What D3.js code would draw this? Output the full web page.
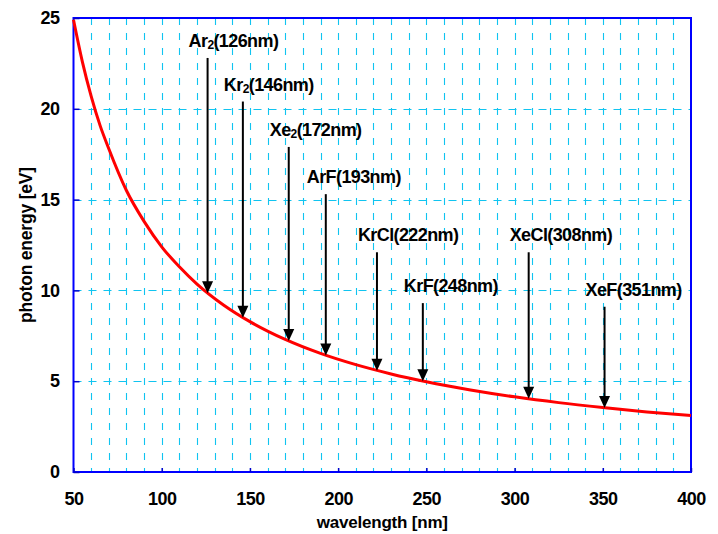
<!DOCTYPE html>
<html><head><meta charset="utf-8">
<script src="https://cdn.jsdelivr.net/npm/d3@7"></script>
<style>body{margin:0;background:#fff}text{font-family:"Liberation Sans",Arial,sans-serif;font-weight:bold;fill:#000}</style>
</head><body><svg id="c" width="718" height="534"></svg>
<script>
// curve readings: wavelength [nm] -> photon energy [eV]
const curveWavelength = [50,55,60,65,70,80,90,100,110,120,135,150,170,190,210,230,250,275,300,325,350,375,400];
const curveEnergy     = [24.9,22.6,20.7,19.1,17.8,15.5,13.8,12.4,11.3,10.35,9.2,8.28,7.3,6.53,5.91,5.4,4.97,4.52,4.14,3.82,3.55,3.31,3.11];
// excimer lines
const lineName       = ["Ar","Kr","Xe","ArF","KrCl","KrF","XeCl","XeF"];
const lineSub        = ["2","2","2","","","","",""];
const lineWavelength = [126,146,172,193,222,248,308,351];
const lineEnergy     = [9.84,8.49,7.21,6.42,5.58,5.00,4.03,3.53];
const labelEnergy    = [22.8,20.4,17.9,15.3,12.1,9.3,12.1,9.1]; // arrow start level
const xTicks = [50,100,150,200,250,300,350,400];
const yTicks = [0,5,10,15,20,25];
const xMinor = d3.range(60,400,10);
const yGrid = [5,10,15,20];

const svg = d3.select("#c");
const L=73.5, R=691, T=18, B=472;
const x = d3.scaleLinear().domain([50,400]).range([L,R]);
const y = d3.scaleLinear().domain([0,25]).range([B,T]);
const grid = "#10c4f0";

// grid
svg.append("g").selectAll("line").data(xMinor).join("line")
  .attr("x1",d=>Math.round(x(d))+0.5).attr("x2",d=>Math.round(x(d))+0.5)
  .attr("y1",T).attr("y2",B).attr("stroke",grid).attr("stroke-width",1.1).attr("stroke-dasharray","7,8");
svg.append("g").selectAll("line").data(yGrid).join("line")
  .attr("y1",d=>Math.round(y(d))+0.5).attr("y2",d=>Math.round(y(d))+0.5)
  .attr("x1",L).attr("x2",R).attr("stroke",grid).attr("stroke-width",1.1).attr("stroke-dasharray","8,7");

// frame
svg.append("rect").attr("x",L).attr("y",T).attr("width",R-L).attr("height",B-T)
  .attr("fill","none").attr("stroke","#0000ff").attr("stroke-width",2);

// axes with inward ticks
const xAxis = svg.append("g").attr("transform",`translate(0,${B})`)
  .call(d3.axisBottom(x).tickValues(xTicks).tickSize(-4).tickPadding(20).tickFormat(d3.format("d")));
const yAxis = svg.append("g").attr("transform",`translate(${L},0)`)
  .call(d3.axisLeft(y).tickValues(yTicks).tickSize(-6).tickPadding(14).tickFormat(d3.format("d")));
[xAxis,yAxis].forEach(a=>{
  a.select(".domain").remove();
  a.selectAll(".tick line").attr("stroke","#0000cc").attr("stroke-width",1.5);
  a.selectAll(".tick text").style("font-size","18px").style("font-family","Liberation Sans, Arial, sans-serif").style("font-weight","bold").style("letter-spacing","-0.5px").attr("fill","#000");
});

// curve
const pts = curveWavelength.map((w,i)=>[w,curveEnergy[i]]);
svg.append("path").datum(pts)
  .attr("d",d3.line().x(d=>x(d[0])).y(d=>y(d[1])).curve(d3.curveMonotoneX))
  .attr("fill","none").attr("stroke","#ff0000").attr("stroke-width",3);

// arrows and labels
const g = svg.append("g");
lineWavelength.forEach((w,i)=>{
  const ax = x(w), y0 = y(labelEnergy[i]), tip = y(lineEnergy[i]);
  const hl = 12, hw = 5.5;
  g.append("line").attr("x1",ax).attr("x2",ax).attr("y1",y0).attr("y2",tip-hl+1)
    .attr("stroke","#000").attr("stroke-width",2);
  g.append("path").attr("d",`M${ax-hw},${tip-hl}L${ax+hw},${tip-hl}L${ax},${tip}Z`).attr("fill","#000");
  const t = g.append("text").attr("x",ax-19).attr("y",y0-11).style("font-size","18px").style("letter-spacing","-0.6px");
  t.append("tspan").text(lineName[i]);
  if(lineSub[i]) t.append("tspan").attr("dy",2).style("font-size","12px").text(lineSub[i]);
  t.append("tspan").attr("dy",lineSub[i]?-2:0).text(`(${w}nm)`);
});

// axis titles
svg.append("text").attr("x",(L+R)/2).attr("y",528).attr("text-anchor","middle")
  .style("font-size","17px").style("letter-spacing","-0.2px").text("wavelength [nm]");
svg.append("text").attr("transform",`translate(32,${(T+B)/2}) rotate(-90)`).attr("text-anchor","middle")
  .style("font-size","17.5px").style("letter-spacing","-0.2px").text("photon energy [eV]");
</script></body></html>
